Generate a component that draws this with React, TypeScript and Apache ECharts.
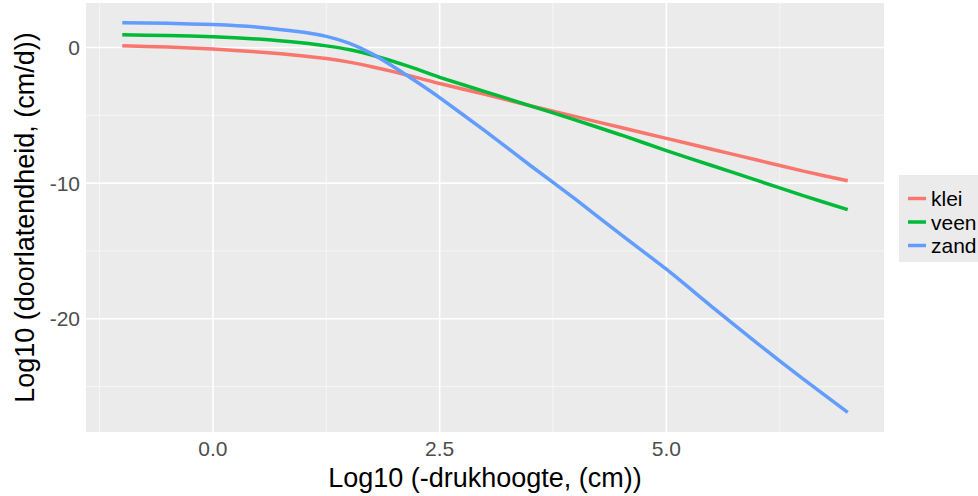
import React, { useEffect, useRef } from "react";
import * as echarts from "echarts";

const xValues = [-1, -0.5, 0, 0.5, 1, 1.25, 1.5, 1.75, 2, 2.25, 2.5, 3, 3.5, 4, 4.5, 5, 5.5, 6, 6.5, 7];
const klei = [0.12, 0.03, -0.12, -0.33, -0.62, -0.82, -1.08, -1.42, -1.8, -2.22, -2.66, -3.45, -4.3, -5.1, -5.9, -6.7, -7.5, -8.3, -9.1, -9.83];
const veen = [0.93, 0.88, 0.8, 0.62, 0.33, 0.12, -0.15, -0.55, -1.05, -1.6, -2.2, -3.25, -4.3, -5.35, -6.45, -7.6, -8.7, -9.8, -10.9, -11.96];
const zand = [1.83, 1.78, 1.69, 1.5, 1.12, 0.82, 0.32, -0.45, -1.45, -2.55, -3.7, -6.15, -8.7, -11.2, -13.8, -16.35, -19.1, -21.8, -24.4, -26.9];

const seriesNames = ["klei", "veen", "zand"];
const seriesColors = ["#F8766D", "#00BA38", "#619CFF"];

const xTickValues = [0, 2.5, 5];
const xTickLabels = ["0.0", "2.5", "5.0"];
const xMinorGrid = [-1.25, 1.25, 3.75, 6.25];
const yTickValues = [0, -10, -20];
const yTickLabels = ["0", "-10", "-20"];
const yMinorGrid = [-5, -15, -25];

const xTitle = "Log10 (-drukhoogte, (cm))";
const yTitle = "Log10 (doorlatendheid, (cm/d))";

const FONT = "'Liberation Sans', Arial, sans-serif";
const X_MIN = -1.4;
const X_MAX = 7.4;
const Y_MIN = -28.35;
const Y_MAX = 3.28;

export default function App() {
  const ref = useRef<HTMLDivElement>(null);

  useEffect(() => {
    if (!ref.current) return;
    const chart = echarts.init(ref.current, undefined, { renderer: "svg" });
    const values = [klei, veen, zand];

    const gridSeries: any[] = [];
    const addGrid = (data: number[][], major: boolean) =>
      gridSeries.push({
        type: "line",
        data,
        symbol: "none",
        silent: true,
        z: 1,
        lineStyle: { color: major ? "#FFFFFF" : "#F7F7F7", width: major ? 1.6 : 0.9 },
        tooltip: { show: false },
      });
    yMinorGrid.forEach((v) => addGrid([[X_MIN, v], [X_MAX, v]], false));
    xMinorGrid.forEach((v) => addGrid([[v, Y_MIN], [v, Y_MAX]], false));
    yTickValues.forEach((v) => addGrid([[X_MIN, v], [X_MAX, v]], true));
    xTickValues.forEach((v) => addGrid([[v, Y_MIN], [v, Y_MAX]], true));

    const dataSeries = seriesNames.map((name, i) => ({
      name,
      type: "line",
      data: xValues.map((x, j) => [x, values[i][j]]),
      showSymbol: false,
      symbol: "none",
      smooth: 0.2,
      lineStyle: { color: seriesColors[i], width: 3.5 },
      itemStyle: { color: seriesColors[i] },
      z: 3,
    }));

    chart.setOption({
      animation: false,
      textStyle: { fontFamily: FONT },
      graphic: [
        {
          type: "rect",
          shape: { x: 899, y: 175, width: 100, height: 87 },
          style: { fill: "#EBEBEB" },
          z: 0,
        },
      ],
      grid: { left: 86, right: 94, top: 3, bottom: 61, backgroundColor: "#EBEBEB", show: true, borderWidth: 0 },
      legend: {
        data: seriesNames,
        orient: "vertical",
        left: 908,
        top: 188,
        icon: "rect",
        itemWidth: 18,
        itemHeight: 3.5,
        itemGap: 2.5,
        padding: 0,
        textStyle: { fontSize: 21, color: "#000000", fontFamily: FONT, lineHeight: 21 },
      },
      xAxis: {
        type: "value",
        min: X_MIN,
        max: X_MAX,
        axisLine: { show: false },
        splitLine: { show: false },
        axisTick: { show: true, customValues: xTickValues, length: 4, lineStyle: { color: "#333333" } },
        axisLabel: {
          customValues: xTickValues,
          formatter: (v: number) => xTickLabels[xTickValues.indexOf(v)] ?? String(v),
          fontSize: 21,
          color: "#4D4D4D",
          margin: 6,
          fontFamily: FONT,
        },
        name: xTitle,
        nameLocation: "middle",
        nameGap: 32,
        nameTextStyle: { fontSize: 27, color: "#000000", fontFamily: FONT, verticalAlign: "top" },
      },
      yAxis: {
        type: "value",
        min: Y_MIN,
        max: Y_MAX,
        axisLine: { show: false },
        splitLine: { show: false },
        axisTick: { show: true, customValues: yTickValues, length: 4, lineStyle: { color: "#333333" } },
        axisLabel: {
          customValues: yTickValues,
          formatter: (v: number) => yTickLabels[yTickValues.indexOf(v)] ?? String(v),
          fontSize: 21,
          color: "#4D4D4D",
          margin: 6,
          fontFamily: FONT,
        },
        name: yTitle,
        nameLocation: "middle",
        nameGap: 42,
        nameTextStyle: { fontSize: 27, color: "#000000", fontFamily: FONT },
      },
      series: [...gridSeries, ...dataSeries],
    });

    return () => chart.dispose();
  }, []);

  return (
    <div
      ref={ref}
      style={{ position: "fixed", left: 0, top: 0, width: 978, height: 496, background: "#FFFFFF" }}
    />
  );
}
